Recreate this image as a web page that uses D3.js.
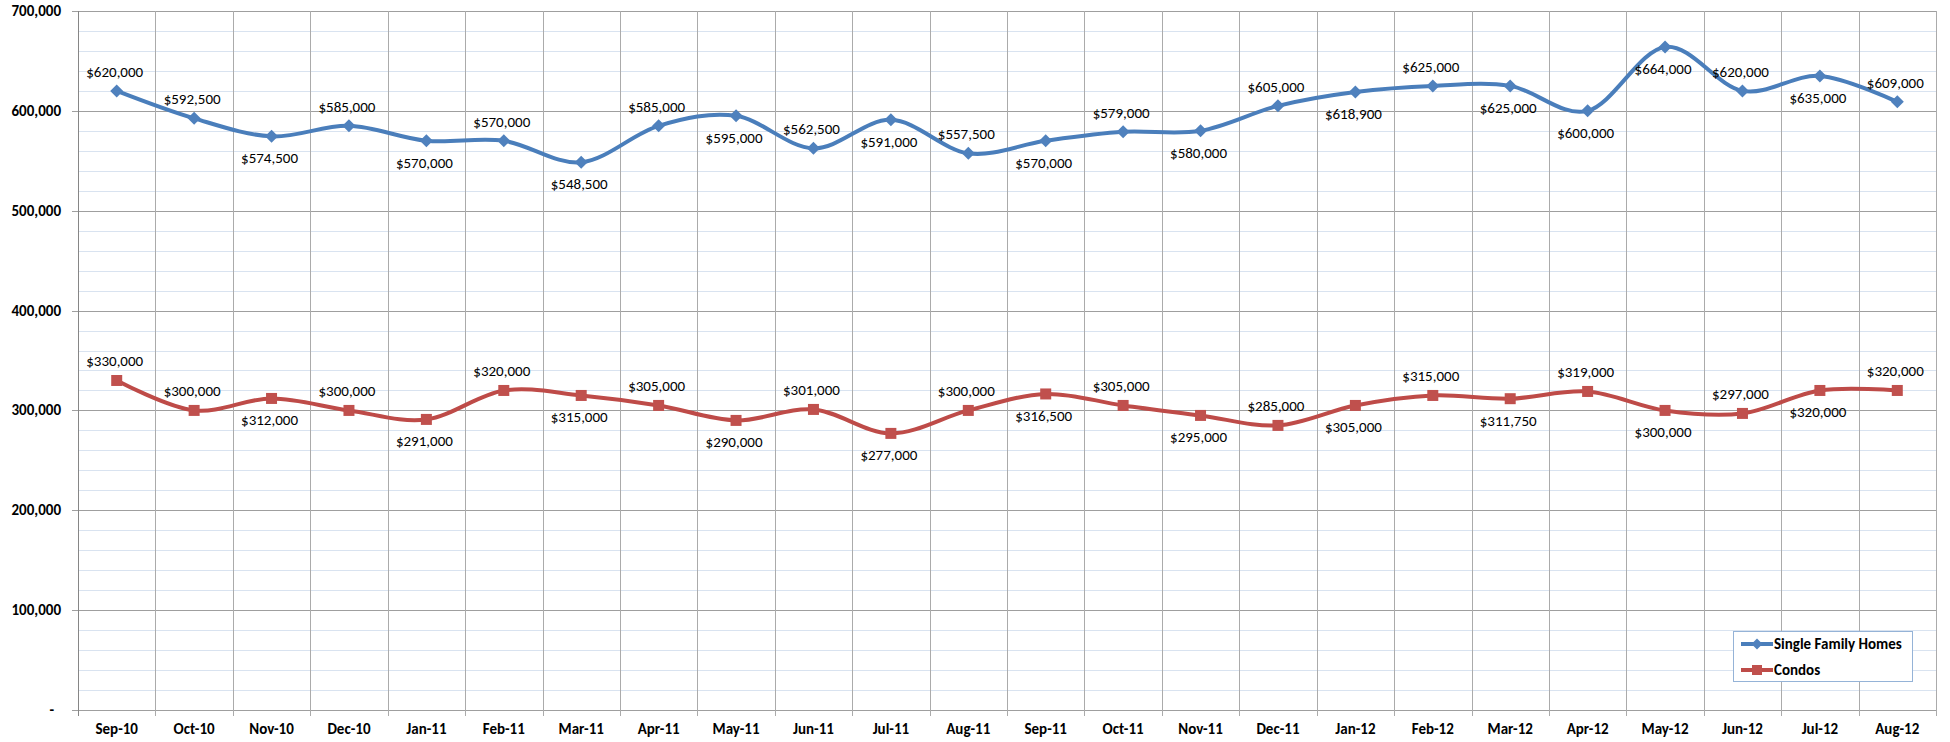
<!DOCTYPE html>
<html>
<head>
<meta charset="UTF-8">
<title>Median Sales Price</title>
<style>
  html, body { margin: 0; padding: 0; background: #fff; }
  svg text { font-family: Carlito, "Liberation Sans", Arial, sans-serif; fill: #000; }
</style>
</head>
<body>
<div id="chart"></div>
<script src="https://cdnjs.cloudflare.com/ajax/libs/d3/7.8.5/d3.min.js"></script>
<script>
// month categories
var months = ['Sep-10', 'Oct-10', 'Nov-10', 'Dec-10', 'Jan-11', 'Feb-11', 'Mar-11', 'Apr-11',
              'May-11', 'Jun-11', 'Jul-11', 'Aug-11', 'Sep-11', 'Oct-11', 'Nov-11', 'Dec-11',
              'Jan-12', 'Feb-12', 'Mar-12', 'Apr-12', 'May-12', 'Jun-12', 'Jul-12', 'Aug-12'];

var singleFamily = [620000, 592500, 574500, 585000, 570000, 570000, 548500, 585000,
                    595000, 562500, 591000, 557500, 570000, 579000, 580000, 605000,
                    618900, 625000, 625000, 600000, 664000, 620000, 635000, 609000];

var condos = [330000, 300000, 312000, 300000, 291000, 320000, 315000, 305000,
              290000, 301000, 277000, 300000, 316500, 305000, 295000, 285000,
              305000, 315000, 311750, 319000, 300000, 297000, 320000, 320000];

var yTicks = [0, 100000, 200000, 300000, 400000, 500000, 600000, 700000];

// which side the value label sits on (a = above, b = below)
var sfhSide   = 'aabababababababababbbaba'.split('');
var condoSide = 'aabababababababababababa'.split('');

var W = 1950, H = 742;
var plotL = 78, plotR = 1936, plotT = 11, plotB = 710;

var svg = d3.select('#chart').append('svg')
    .attr('width', W).attr('height', H);

var x = d3.scaleBand().domain(months).range([plotL, plotR]).padding(0);
var y = d3.scaleLinear().domain([0, 700000]).range([plotB, plotT]);
var cx = function (i) { return x(months[i]) + x.bandwidth() / 2; };

// minor gridlines every 20,000
var minor = d3.range(0, 700001, 20000).filter(function (v) { return v % 100000 !== 0; });
svg.append('g').selectAll('line').data(minor).enter().append('line')
    .attr('x1', plotL).attr('x2', plotR)
    .attr('y1', function (d) { return Math.round(y(d)) + 0.5; })
    .attr('y2', function (d) { return Math.round(y(d)) + 0.5; })
    .attr('stroke', '#d9e3f0').attr('stroke-width', 1);

// major gridlines
svg.append('g').selectAll('line').data(yTicks).enter().append('line')
    .attr('x1', plotL - 6).attr('x2', plotR)
    .attr('y1', function (d) { return Math.round(y(d)) + 0.5; })
    .attr('y2', function (d) { return Math.round(y(d)) + 0.5; })
    .attr('stroke', '#9f9f9f').attr('stroke-width', 1);

// vertical gridlines at category edges
var edges = months.map(function (m) { return x(m); }).concat([plotR]);
svg.append('g').selectAll('line').data(edges).enter().append('line')
    .attr('x1', function (d) { return Math.round(d) + 0.5; })
    .attr('x2', function (d) { return Math.round(d) + 0.5; })
    .attr('y1', plotT).attr('y2', plotB + 6)
    .attr('stroke', function (d, i) { return i === 0 ? '#868686' : '#ababab'; })
    .attr('stroke-width', 1);

// y axis labels
svg.append('g').selectAll('text').data(yTicks).enter().append('text')
    .attr('x', function (d) { return d === 0 ? 54 : 61; })
    .attr('y', function (d) { return y(d) + 5; })
    .attr('text-anchor', 'end')
    .style('font-size', '15px').style('font-weight', 'bold')
    .text(function (d) { return d === 0 ? '-' : d3.format(',')(d); });

// x axis labels
svg.append('g').selectAll('text').data(months).enter().append('text')
    .attr('x', function (d) { return x(d) + x.bandwidth() / 2; })
    .attr('y', 734)
    .attr('text-anchor', 'middle')
    .style('font-size', '15px').style('font-weight', 'bold')
    .text(function (d) { return d; });

var line = d3.line()
    .x(function (d, i) { return cx(i); })
    .y(function (d) { return y(d); })
    .curve(d3.curveCardinal.tension(0));

var series = [
    { name: 'Single Family Homes', values: singleFamily, side: sfhSide, line: '#4a7ebb', fill: '#4f81bd', marker: 'diamond' },
    { name: 'Condos', values: condos, side: condoSide, line: '#be4b48', fill: '#c0504d', marker: 'square' }
];

function markerPath(type, s) {
    if (type === 'diamond') return 'M0,' + (-s) + 'L' + s + ',0L0,' + s + 'L' + (-s) + ',0Z';
    return 'M' + (-s) + ',' + (-s) + 'H' + s + 'V' + s + 'H' + (-s) + 'Z';
}

var fmt = d3.format('$,');

series.forEach(function (s) {
    var g = svg.append('g');
    g.append('path').datum(s.values)
        .attr('d', line)
        .attr('fill', 'none')
        .attr('stroke', s.line)
        .attr('stroke-width', 4)
        .attr('stroke-linejoin', 'round');

    g.selectAll('path.mk').data(s.values).enter().append('path')
        .attr('class', 'mk')
        .attr('transform', function (d, i) { return 'translate(' + cx(i) + ',' + y(d) + ')'; })
        .attr('d', markerPath(s.marker, s.marker === 'diamond' ? 6.5 : 5.5))
        .attr('fill', s.fill);

    g.selectAll('text').data(s.values).enter().append('text')
        .attr('x', function (d, i) { return cx(i) - 2; })
        .attr('y', function (d, i) { return s.side[i] === 'a' ? y(d) - 14 : y(d) + 27; })
        .attr('text-anchor', 'middle')
        .style('font-size', '15px')
        .text(function (d) { return fmt(d); });
});

// legend
var lg = svg.append('g').attr('transform', 'translate(1733,631)');
lg.append('rect').attr('x', 0.5).attr('y', 0.5).attr('width', 179).attr('height', 50)
    .attr('fill', '#fff').attr('stroke', '#95b3d7');
series.forEach(function (s, i) {
    var yy = 13 + i * 26;
    lg.append('line').attr('x1', 8).attr('x2', 40).attr('y1', yy).attr('y2', yy)
        .attr('stroke', s.line).attr('stroke-width', 4);
    lg.append('path').attr('transform', 'translate(24,' + yy + ')')
        .attr('d', markerPath(s.marker, s.marker === 'diamond' ? 5.5 : 5))
        .attr('fill', s.fill);
    lg.append('text').attr('x', 41).attr('y', yy + 5)
        .style('font-size', '15px').style('font-weight', 'bold')
        .text(s.name);
});
</script>
</body>
</html>
